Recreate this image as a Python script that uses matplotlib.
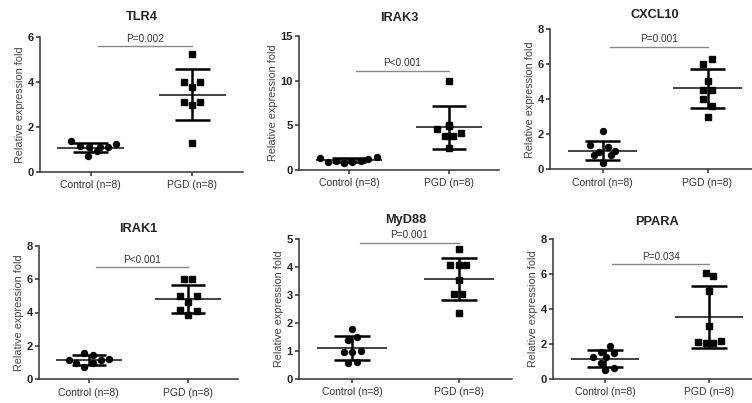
# scatter dot plots: relative expression, control vs PGD

import numpy as np
import matplotlib.pyplot as plt

plt.rcParams['font.family'] = ['Liberation Sans', 'DejaVu Sans']

# data

genes = ['TLR4', 'IRAK3', 'CXCL10', 'IRAK1', 'MyD88', 'PPARA']
groups = ['Control (n=8)', 'PGD (n=8)']
p_values = ['P=0.002', 'P<0.001', 'P=0.001', 'P<0.001', 'P=0.001', 'P=0.034']

tlr4_control = [1.38, 1.16, 1.12, 0.94, 1.12, 1.12, 1.22, 0.71]
tlr4_pgd = [5.24, 4.02, 4.02, 3.77, 3.10, 3.10, 2.98, 1.29]
irak3_control = [1.31, 0.93, 1.04, 0.81, 0.93, 1.04, 1.19, 1.49]
irak3_pgd = [9.97, 5.04, 4.55, 4.10, 3.80, 3.80, 2.50, 4.90]
cxcl10_control = [2.19, 1.39, 1.29, 1.01, 1.06, 0.82, 0.82, 0.38]
cxcl10_pgd = [6.29, 6.02, 5.05, 4.53, 4.53, 4.02, 3.62, 3.01]
irak1_control = [1.16, 0.96, 1.60, 0.76, 1.45, 0.96, 1.16, 1.20]
irak1_pgd = [5.99, 5.99, 4.99, 4.99, 4.65, 4.15, 4.09, 3.85]
myd88_control = [1.77, 1.39, 1.49, 0.98, 0.98, 0.99, 0.56, 0.62]
myd88_pgd = [4.64, 4.07, 4.07, 4.07, 3.54, 3.04, 3.04, 2.35]
ppara_control = [1.91, 1.51, 1.28, 1.24, 1.56, 0.90, 0.61, 0.52]
ppara_pgd = [6.05, 5.92, 5.04, 3.04, 2.10, 2.04, 2.04, 2.18]

control_means = [1.08, 1.12, 1.07, 1.16, 1.10, 1.17]
control_sds = [0.21, 0.22, 0.55, 0.30, 0.42, 0.50]
pgd_means = [3.44, 4.78, 4.63, 4.82, 3.56, 3.54]
pgd_sds = [1.14, 2.38, 1.10, 0.85, 0.75, 1.78]

y_max = [6, 15, 8, 8, 5, 8]
y_step = [2, 5, 2, 2, 1, 2]
p_line_y = [5.6, 11.1, 7.0, 6.7, 4.87, 6.57]

controls = [tlr4_control, irak3_control, cxcl10_control, irak1_control, myd88_control, ppara_control]
pgds = [tlr4_pgd, irak3_pgd, cxcl10_pgd, irak1_pgd, myd88_pgd, ppara_pgd]

# horizontal scatter of the dots around each group

control_dx = [[-0.19, -0.105, -0.02, 0.06, 0.09, 0.17, 0.25, -0.03],
              [-0.29, -0.21, -0.13, -0.05, 0.03, 0.12, 0.19, 0.28],
              [0, -0.12, 0.05, -0.03, 0.12, -0.08, 0.08, 0],
              [-0.2, -0.13, -0.045, -0.045, 0.04, 0.04, 0.125, 0.2],
              [0, -0.04, 0.04, -0.08, 0, 0.08, -0.04, 0.04],
              [0.045, 0.087, -0.115, 0.007, -0.035, -0.035, 0.087, 0]]
pgd_dx = [[0, -0.08, 0.08, 0, -0.08, 0.08, 0, 0],
          [0, 0, -0.12, 0.12, -0.045, 0.035, 0, 0],
          [0.04, -0.04, 0, -0.04, 0.04, -0.04, 0.04, 0],
          [-0.04, 0.04, -0.085, 0.085, 0, -0.085, 0.085, 0],
          [0, -0.085, 0, 0.07, 0, -0.04, 0.03, 0],
          [-0.03, 0.04, 0, 0, -0.11, -0.03, 0.04, 0.12]]

# axes boxes in pixels: left, top, width, height

W, H = 752, 403
boxes = [(40, 37.3, 203, 134.4), (299, 36, 200, 134), (550, 29.3, 210, 140),
         (39, 245.7, 199, 133.6), (299, 239, 213, 140), (553, 239.3, 208, 139.7)]
title_pad = [12.5, 10.5, 7.8, 9.8, 11.8, 10.4]

fig = plt.figure(figsize = (W / 100, H / 100), dpi = 100)

for i in range(6):
    l, t, w, h = boxes[i]
    ax = fig.add_axes([l / W, 1 - (t + h) / H, w / W, h / H])

    # mean and SD bars
    for x, m, s in [(0, control_means[i], control_sds[i]), (1, pgd_means[i], pgd_sds[i])]:
        ax.hlines(m, x - 0.33, x + 0.33, color = '#333333', lw = 1.3, zorder = 2)
        ax.vlines(x, m - s, m + s, color = 'black', lw = 1.8, zorder = 2)
        ax.hlines([m - s, m + s], x - 0.17, x + 0.17, color = 'black', lw = 1.8, zorder = 2)

    # individual samples
    ax.plot(np.array(control_dx[i]), controls[i], 'o', color = 'black', ms = 4.3, zorder = 3, clip_on = False)
    ax.plot(1 + np.array(pgd_dx[i]), pgds[i], 's', color = 'black', ms = 4.0, zorder = 3, clip_on = False)

    # significance line
    ax.plot([0.07, 1.0], [p_line_y[i]] * 2, color = '#888888', lw = 1)
    ax.annotate(p_values[i], (0.535, p_line_y[i]), xytext = (0, 1.8), textcoords = 'offset points',
                ha = 'center', va = 'bottom', fontsize = 7.2, color = '#333333')

    ax.set_xlim(-0.5, 1.5)
    ax.set_ylim(0, y_max[i])
    ax.set_xticks([0, 1])
    ax.set_xticklabels(groups, fontsize = 7.5, color = '#333333')
    ax.set_yticks(np.arange(0, y_max[i] + 0.1, y_step[i]))
    ax.set_yticklabels([str(v) for v in range(0, y_max[i] + 1, y_step[i])],
                       fontsize = 8, fontweight = 'bold', color = '#222222')
    ax.tick_params(axis = 'both', direction = 'out', length = 3, width = 1.1, color = '#333333', pad = 1.5)
    ax.tick_params(axis = 'x', pad = 3)
    for side in ['top', 'right']:
        ax.spines[side].set_visible(False)
    for side in ['left', 'bottom']:
        ax.spines[side].set_linewidth(1.1)
        ax.spines[side].set_color('#333333')

    ax.set_ylabel('Relative expression fold', fontsize = 7.8, color = '#444444', labelpad = 2)
    ax.set_title(genes[i], fontsize = 9.2, fontweight = 'bold', color = '#222222', pad = title_pad[i])

fig.savefig('out.png', dpi = 100, facecolor = 'white')
